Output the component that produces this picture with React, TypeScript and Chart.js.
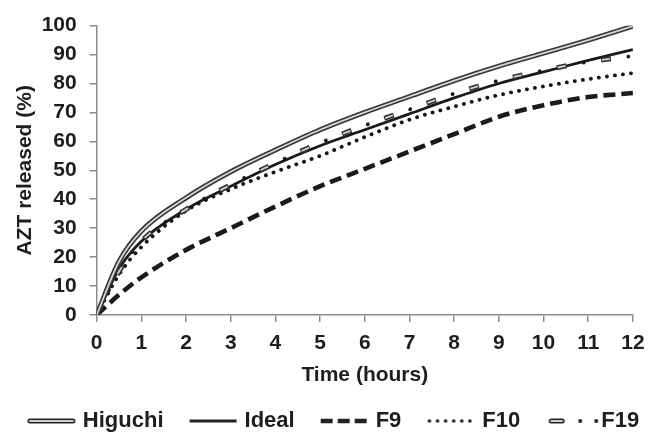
import React, { useEffect, useRef } from "react";
import { Chart, registerables } from "chart.js";

Chart.register(...registerables);

// ---- data ----
const hours = [0, 0.5, 1, 2, 3, 4, 5, 6, 7, 8, 9, 10, 11, 12];
const higuchi = [0, 18.5, 29, 40.5, 49.5, 57, 64, 70, 75.5, 81, 86, 90.5, 95, 99.8];
const ideal = [0, 16, 25.5, 36.5, 44.5, 52, 58.5, 64, 69.5, 75, 80, 84, 88, 91.7];
const f9 = [0, 7, 13, 22.5, 30, 37.5, 44.5, 50.5, 56.5, 62.5, 68.5, 72.5, 75.3, 76.7];
const f10 = [0, 14, 23.5, 36, 43.5, 49.5, 55, 61.5, 67.5, 72, 76, 79, 81.5, 83.6];
const f19 = [0, 15, 25.5, 36.5, 45, 52.5, 59.5, 65.5, 71, 76.5, 81, 84.5, 87.5, 89.5];

const seriesNames = ["Higuchi", "Ideal", "F9", "F10", "F19"];
const xMin = 0;
const xMax = 12;
const xStep = 1;
const yMin = 0;
const yMax = 100;
const yStep = 10;
const xTitle = "Time (hours)";
const yTitle = "AZT released (%)";

const FONT = "'Liberation Sans', Arial, sans-serif";
const INK = "#1e1e1e";
const AXIS = "#8c8c8c";

const pts = (ys: number[]) => hours.map((x, i) => ({ x, y: ys[i] }));

function makeSample(kind: string): HTMLCanvasElement {
  const c = document.createElement("canvas");
  c.width = 76;
  c.height = 14;
  const g = c.getContext("2d")!;
  const y = 7;
  const a = 23;
  const b = 70;
  g.strokeStyle = "#222";
  if (kind === "Higuchi") {
    g.lineCap = "round";
    g.lineWidth = 5;
    g.beginPath(); g.moveTo(a + 2, y); g.lineTo(b - 2, y); g.stroke();
    g.strokeStyle = "#d0d0d0";
    g.lineWidth = 1.8;
    g.beginPath(); g.moveTo(a + 2, y); g.lineTo(b - 2, y); g.stroke();
  } else if (kind === "Ideal") {
    g.lineWidth = 2.8;
    g.beginPath(); g.moveTo(a, y); g.lineTo(b, y); g.stroke();
  } else if (kind === "F9") {
    g.lineWidth = 4.5;
    g.setLineDash([12, 5]);
    g.beginPath(); g.moveTo(a, y); g.lineTo(b, y); g.stroke();
  } else if (kind === "F10") {
    g.lineWidth = 3.6;
    g.lineCap = "round";
    g.setLineDash([0.1, 8]);
    g.beginPath(); g.moveTo(a + 2, y); g.lineTo(b, y); g.stroke();
  } else {
    // F19: hollow box then two dots
    g.lineWidth = 5;
    g.lineCap = "round";
    g.beginPath(); g.moveTo(28, y); g.lineTo(39, y); g.stroke();
    g.strokeStyle = "#d0d0d0";
    g.lineWidth = 1.8;
    g.beginPath(); g.moveTo(28, y); g.lineTo(39, y); g.stroke();
    g.fillStyle = "#222";
    g.beginPath(); g.arc(57, y, 2, 0, Math.PI * 2); g.fill();
    g.beginPath(); g.arc(73, y, 2, 0, Math.PI * 2); g.fill();
  }
  return c;
}

export default function App() {
  const ref = useRef<HTMLCanvasElement | null>(null);

  useEffect(() => {
    if (!ref.current) return;
    const samples = seriesNames.map(makeSample);
    const base = {
      pointRadius: 0,
      fill: false,
      cubicInterpolationMode: "monotone" as const,
    };
    const chart = new Chart(ref.current, {
      type: "line",
      data: {
        datasets: [
          { ...base, label: "Higuchi", data: pts(higuchi), borderColor: "#353535", borderWidth: 5, order: 2 },
          { ...base, label: "Higuchi-inner", data: pts(higuchi), borderColor: "#d4d4d4", borderWidth: 1.8, order: 1 },
          { ...base, label: "Ideal", data: pts(ideal), borderColor: "#1a1a1a", borderWidth: 2.8, order: 6 },
          { ...base, label: "F9", data: pts(f9), borderColor: "#1a1a1a", borderWidth: 4.6, borderDash: [12, 6], order: 8 },
          { ...base, label: "F10", data: pts(f10), borderColor: "#151515", borderWidth: 3.8, borderDash: [0.1, 8], borderCapStyle: "round" as const, order: 7 },
          { ...base, label: "F19", data: pts(f19), borderColor: "#303030", borderWidth: 5, borderDash: [10, 35], order: 5 },
          { ...base, label: "F19-inner", data: pts(f19), borderColor: "#cfcfcf", borderWidth: 1.8, borderDash: [8, 37], borderDashOffset: -1, order: 4 },
          { ...base, label: "F19-dot", data: pts(f19), borderColor: "#1a1a1a", borderWidth: 3.8, borderDash: [0.1, 44.9], borderDashOffset: -27.5, borderCapStyle: "round" as const, order: 3 },
        ],
      },
      options: {
        animation: false,
        responsive: true,
        maintainAspectRatio: false,
        layout: { padding: { top: 22.7, bottom: -7, left: 0, right: 0 } },
        plugins: {
          tooltip: { enabled: false },
          legend: {
            position: "bottom",
            labels: {
              usePointStyle: true,
              pointStyleWidth: 58,
              padding: 12,
              color: INK,
              font: { family: FONT, size: 22, weight: "bold" },
              generateLabels: () =>
                seriesNames.map((name, i) => ({
                  text: name,
                  pointStyle: samples[i],
                  fillStyle: "rgba(0,0,0,0)",
                  strokeStyle: "rgba(0,0,0,0)",
                  lineWidth: 0,
                  hidden: false,
                  fontColor: INK,
                  datasetIndex: i,
                })),
            },
          },
        },
        scales: {
          x: {
            type: "linear",
            min: xMin,
            max: xMax,
            afterFit: (s: any) => { s.height = 83; },
            ticks: {
              stepSize: xStep,
              color: INK,
              padding: 8.4,
              font: { family: FONT, size: 21, weight: "bold" },
              maxRotation: 0,
            },
            grid: { display: true, drawOnChartArea: false, drawTicks: true, tickLength: 7, color: AXIS, lineWidth: 1.5 },
            border: { display: true, color: AXIS, width: 1.5 },
            title: {
              display: true,
              text: xTitle,
              color: INK,
              font: { family: FONT, size: 21, weight: "bold" },
              padding: { top: 0, bottom: 10.4 },
            },
          },
          y: {
            type: "linear",
            min: yMin,
            max: yMax,
            afterFit: (s: any) => { s.width = 96.7; },
            ticks: {
              stepSize: yStep,
              color: INK,
              padding: 13,
              font: { family: FONT, size: 21, weight: "bold" },
            },
            grid: { display: true, drawOnChartArea: false, drawTicks: true, tickLength: 7, color: AXIS, lineWidth: 1.5 },
            border: { display: true, color: AXIS, width: 1.5 },
            title: {
              display: true,
              text: yTitle,
              color: INK,
              font: { family: FONT, size: 21, weight: "bold" },
              padding: { top: 12.4, bottom: 0 },
            },
          },
          yR: {
            type: "linear",
            position: "right",
            display: true,
            afterFit: (s: any) => { s.width = 16.3; },
            ticks: { display: false },
            grid: { display: false, drawTicks: false },
            border: { display: false },
          },
        },
      },
    } as any);
    return () => chart.destroy();
  }, []);

  return (
    <div style={{ position: "fixed", left: 0, top: 0, width: 653, height: 435, background: "#fff" }}>
      <canvas ref={ref} />
    </div>
  );
}
